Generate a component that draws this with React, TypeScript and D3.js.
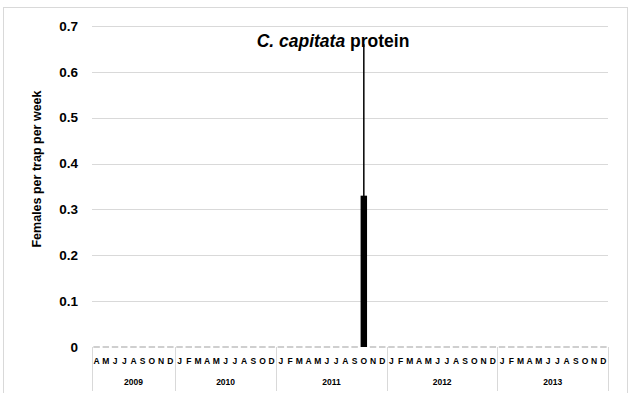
import { useEffect, useRef } from "react";
import * as d3 from "d3";

// categories: year groups and their months
const YEARS = ["2009", "2010", "2011", "2012", "2013"];
const MONTHS_BY_YEAR: string[][] = [
  ["A", "M", "J", "J", "A", "S", "O", "N", "D"],
  ["J", "F", "M", "A", "M", "J", "J", "A", "S", "O", "D"],
  ["J", "F", "M", "A", "M", "J", "J", "A", "S", "O", "N", "D"],
  ["J", "F", "M", "A", "M", "J", "J", "A", "S", "O", "N", "D"],
  ["J", "F", "M", "A", "M", "J", "J", "A", "S", "O", "N", "D"],
];
// non-zero observations (year, month index within year) -> value, error
const NONZERO_KEYS = ["2011-9"];
const NONZERO_VALUES = [0.33];
const NONZERO_ERRORS = [0.33];
const Y_TICKS = [0, 0.1, 0.2, 0.3, 0.4, 0.5, 0.6, 0.7];

const W = 632;
const H = 393;
const M = { left: 92, right: 24, top: 26, bottom: 46 };
const FONT = "'Liberation Sans', Arial, sans-serif";

export default function App() {
  const ref = useRef<SVGSVGElement>(null);

  useEffect(() => {
    if (!ref.current) return;
    const svg = d3.select(ref.current);
    svg.selectAll("*").remove();

    const cats: { key: string; year: string; month: string }[] = [];
    YEARS.forEach((y, yi) =>
      MONTHS_BY_YEAR[yi].forEach((m, mi) => cats.push({ key: `${y}-${mi}`, year: y, month: m }))
    );
    const values = new Map<string, [number, number]>();
    NONZERO_KEYS.forEach((k, i) => values.set(k, [NONZERO_VALUES[i], NONZERO_ERRORS[i]]));

    const plotBottom = H - M.bottom; // 347
    const x = d3
      .scaleBand<string>()
      .domain(cats.map((c) => c.key))
      .range([M.left, W - M.right])
      .paddingInner(0.3)
      .paddingOuter(0.15);
    const y = d3.scaleLinear().domain([0, 0.7]).range([plotBottom, M.top]);
    const step = x.step();

    // frame
    svg.append("rect")
      .attr("x", 3.5).attr("y", 7.5).attr("width", 624).attr("height", 390)
      .attr("fill", "white").attr("stroke", "#d9d9d9");

    // gridlines
    Y_TICKS.filter((t) => t > 0).forEach((t) => {
      svg.append("line")
        .attr("x1", M.left).attr("x2", W - M.right)
        .attr("y1", Math.round(y(t)) + 0.5).attr("y2", Math.round(y(t)) + 0.5)
        .attr("stroke", "#d9d9d9").attr("stroke-width", 1);
    });

    // y tick labels
    Y_TICKS.forEach((t) => {
      svg.append("text")
        .attr("x", 78).attr("y", y(t)).attr("dy", "0.35em")
        .attr("text-anchor", "end")
        .attr("font-family", FONT).attr("font-weight", "bold").attr("font-size", 13.5)
        .attr("fill", "#000")
        .text(t === 0 ? "0" : d3.format(".1f")(t));
    });

    // y axis title
    svg.append("text")
      .attr("transform", `translate(41,169) rotate(-90)`)
      .attr("text-anchor", "middle")
      .attr("font-family", FONT).attr("font-weight", "bold").attr("font-size", 12.5)
      .text("Females per trap per week");

    // bars (zero bars show as grey baseline dashes)
    cats.forEach((c) => {
      const v = values.get(c.key);
      const bx = x(c.key)!;
      if (!v) {
        svg.append("line")
          .attr("x1", bx).attr("x2", bx + x.bandwidth())
          .attr("y1", plotBottom).attr("y2", plotBottom)
          .attr("stroke", "#bfbfbf").attr("stroke-width", 1.5);
        return;
      }
      const [val, err] = v;
      svg.append("rect")
        .attr("x", bx).attr("y", y(val))
        .attr("width", x.bandwidth()).attr("height", plotBottom - y(val))
        .attr("fill", "#000");
      const cx = bx + x.bandwidth() / 2;
      svg.append("line")
        .attr("x1", cx).attr("x2", cx)
        .attr("y1", y(Math.max(0, val - err))).attr("y2", y(val + err))
        .attr("stroke", "#000").attr("stroke-width", 1.5);
    });

    // month labels
    cats.forEach((c) => {
      svg.append("text")
        .attr("x", x(c.key)! + x.bandwidth() / 2).attr("y", 364)
        .attr("text-anchor", "middle")
        .attr("font-family", FONT).attr("font-weight", "bold").attr("font-size", 8.5)
        .text(c.month);
    });

    // year group dividers and labels
    let idx = 0;
    const bounds: number[] = [M.left];
    YEARS.forEach((yr, yi) => {
      const start = M.left + idx * step;
      idx += MONTHS_BY_YEAR[yi].length;
      const end = M.left + idx * step;
      bounds.push(end);
      svg.append("text")
        .attr("x", (start + end) / 2).attr("y", 385)
        .attr("text-anchor", "middle")
        .attr("font-family", FONT).attr("font-weight", "bold").attr("font-size", 8.5)
        .text(yr);
    });
    bounds.forEach((b) => {
      svg.append("line")
        .attr("x1", Math.round(b) + 0.5).attr("x2", Math.round(b) + 0.5)
        .attr("y1", plotBottom).attr("y2", 391)
        .attr("stroke", "#d9d9d9").attr("stroke-width", 1);
    });

    // title
    const title = svg.append("text")
      .attr("x", 333).attr("y", 47)
      .attr("text-anchor", "middle")
      .attr("font-family", FONT).attr("font-weight", "bold").attr("font-size", 17.5);
    title.append("tspan").attr("font-style", "italic").text("C. capitata");
    title.append("tspan").text(" protein");
  }, []);

  return (
    <div style={{ position: "absolute", left: 0, top: 0 }}>
      <svg ref={ref} width={W} height={H} viewBox={`0 0 ${W} ${H}`} style={{ display: "block" }} />
    </div>
  );
}
